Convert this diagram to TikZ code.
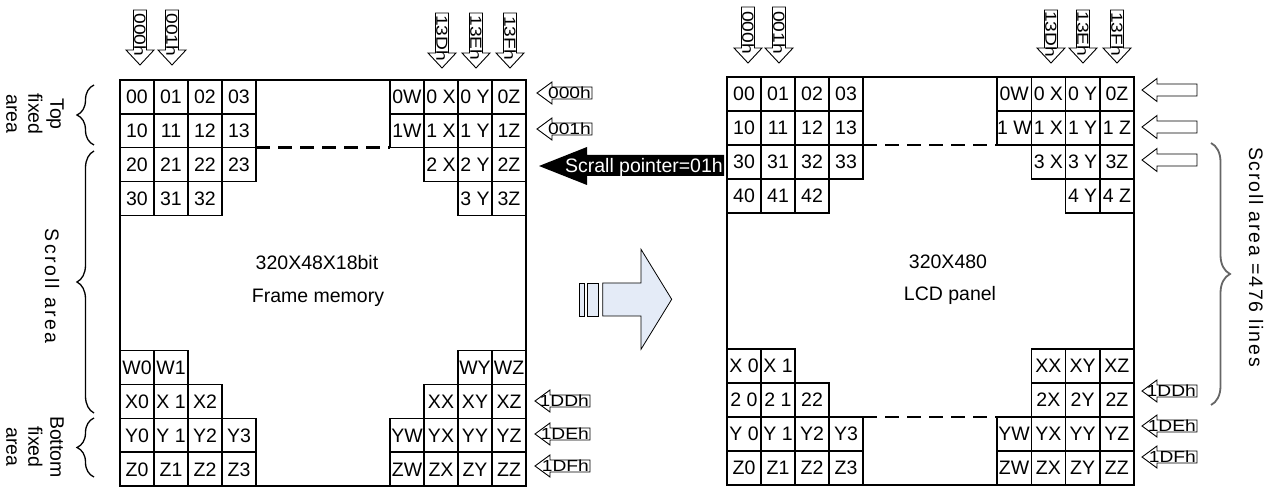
\documentclass[tikz,border=0pt]{standalone}
\usepackage{fontspec}
\setmainfont{Liberation Sans}
\usetikzlibrary{decorations.pathreplacing}
\definecolor{arrowblue}{RGB}{228,235,247}
\newcommand{\cellfont}{\fontsize{19.5}{22}\selectfont}
\newcommand{\tagfont}{\fontsize{16}{18}\selectfont}
\newcommand{\labfont}{\fontsize{19.5}{22}\selectfont}
\tikzset{
  cell/.style={draw, line width=1.5pt, inner sep=0pt, outer sep=0pt, anchor=north west,
    font=\cellfont, text height=13.9pt, text depth=0pt},
  lcell/.style={cell, minimum width=34pt, minimum height=33.83pt},
  rcell/.style={cell, minimum width=34pt, minimum height=34pt},
  rrcell/.style={cell, minimum width=34.25pt, minimum height=34pt},
  framebox/.style={draw, line width=1.5pt, inner sep=0pt, outer sep=0pt, anchor=north west},
  outlinearrow/.style={draw, fill=white, line width=0.9pt, line join=miter},
  tag/.style={font=\tagfont, inner sep=0pt},
  dashline/.style={line width=2.8pt, dash pattern=on 14pt off 8pt},
  bracestyle/.style={decorate, decoration={brace, amplitude=17pt}, line width=1.3pt},
  lab/.style={font=\labfont, inner sep=0pt},
}
% row of cells: prefix, style, x0, dx, y, list
\newcommand{\cellrow}[6]{\foreach \lab [count=\i from 0] in {#6} {\node[#2] (#1\i) at ({#3+#4*\i},#5) {\lab};}}
% down arrow: name, cx, top, tip, label
\newcommand{\downarr}[5]{%
  \draw[outlinearrow] ({#2-6.5},#3) -- ({#2+6.5},#3) -- ({#2+6.5},{#4-15}) -- ({#2+14},{#4-15})
    -- (#2,#4) -- ({#2-14},{#4-15}) -- ({#2-6.5},{#4-15}) -- cycle;
  \node[tag, rotate=-90] (#1) at (#2,{(#3+#4-5)/2}) {\scalebox{1.2}[1]{#5}};}
% left arrow: name, tipx, cy, label
\newcommand{\leftarr}[4]{%
  \draw[outlinearrow] (#2,#3) -- ({#2+15},{#3-11}) -- ({#2+15},{#3-6}) -- ({#2+55},{#3-6})
    -- ({#2+55},{#3+6}) -- ({#2+15},{#3+6}) -- ({#2+15},{#3+11}) -- cycle;
  \node[tag, anchor=east] (#1) at ({#2+54},#3) {\scalebox{1.2}[1]{#4}};}
\begin{document}
\begin{tikzpicture}[x=1pt,y=-1pt]
\useasboundingbox (0,0) rectangle (1278,489);

% ---------- Frame memory ----------
\node[framebox, minimum width=406pt, minimum height=406pt] (mem) at (120,80) {};
\cellrow{mA}{lcell}{120}{34}{80}{00,01,02,03}
\cellrow{mB}{lcell}{120}{34}{113.83}{10,11,12,13}
\cellrow{mC}{lcell}{120}{34}{147.67}{20,21,22,23}
\cellrow{mD}{lcell}{120}{34}{181.5}{30,31,32}
\cellrow{mAr}{lcell}{390}{34}{80}{0W,0 X,0 Y,0Z}
\cellrow{mBr}{lcell}{390}{34}{113.83}{1W,1 X,1 Y,1Z}
\cellrow{mCr}{lcell}{424}{34}{147.67}{2 X,2 Y,2Z}
\cellrow{mDr}{lcell}{458}{34}{181.5}{3 Y,3Z}
\cellrow{mW}{lcell}{120}{34}{350.67}{W0,W1}
\cellrow{mX}{lcell}{120}{34}{384.5}{X0,X 1,X2}
\cellrow{mY}{lcell}{120}{34}{418.33}{Y0,Y 1,Y2,Y3}
\cellrow{mZ}{lcell}{120}{34}{452.17}{Z0,Z1,Z2,Z3}
\cellrow{mWr}{lcell}{458}{34}{350.67}{WY,WZ}
\cellrow{mXr}{lcell}{424}{34}{384.5}{XX,XY,XZ}
\cellrow{mYr}{lcell}{390}{34}{418.33}{YW,YX,YY,YZ}
\cellrow{mZr}{lcell}{390}{34}{452.17}{ZW,ZX,ZY,ZZ}
\draw[dashline] (mB3.south east) -- (mBr0.south west);
\node[lab] (memA) at (317,263) {320X48X18bit};
\node[lab] (memB) at (318,298) {Frame memory};

% ---------- LCD panel ----------
\node[framebox, minimum width=407pt, minimum height=408pt] (lcd) at (727,77) {};
\cellrow{pA}{rcell}{727}{34}{77}{00,01,02,03}
\cellrow{pB}{rcell}{727}{34}{111}{10,11,12,13}
\cellrow{pC}{rcell}{727}{34}{145}{30,31,32,33}
\cellrow{pD}{rcell}{727}{34}{179}{40,41,42}
\cellrow{pAr}{rrcell}{997}{34.25}{77}{0W,0 X,0 Y,0Z}
\cellrow{pBr}{rrcell}{997}{34.25}{111}{1 W,1 X,1 Y,1 Z}
\cellrow{pCr}{rrcell}{1031.25}{34.25}{145}{3 X,3 Y,3Z}
\cellrow{pDr}{rrcell}{1065.5}{34.25}{179}{4 Y,4 Z}
\cellrow{pX}{rcell}{727}{34}{349}{X 0,X 1}
\cellrow{pT}{rcell}{727}{34}{383}{2 0,2 1,22}
\cellrow{pY}{rcell}{727}{34}{417}{Y 0,Y 1,Y2,Y3}
\cellrow{pZ}{rcell}{727}{34}{451}{Z0,Z1,Z2,Z3}
\cellrow{pXr}{rrcell}{1031.25}{34.25}{349}{XX,XY,XZ}
\cellrow{pTr}{rrcell}{1031.25}{34.25}{383}{2X,2Y,2Z}
\cellrow{pYr}{rrcell}{997}{34.25}{417}{YW,YX,YY,YZ}
\cellrow{pZr}{rrcell}{997}{34.25}{451}{ZW,ZX,ZY,ZZ}
\draw[dashline] (pB3.south east) -- (pBr0.south west);
\draw[dashline] (pY3.north east) -- (pYr0.north west);
\node[lab] (lcdA) at (948,262) {320X480};
\node[lab] (lcdB) at (950,295) {LCD panel};

% ---------- column arrows ----------
\downarr{tA}{140}{10}{65}{000h}
\downarr{tB}{172}{10}{65}{001h}
\downarr{tC}{442}{13}{68}{13Dh}
\downarr{tD}{476}{13}{68}{13Eh}
\downarr{tE}{510}{13}{68}{13Fh}
\downarr{uA}{748}{7}{63}{000h}
\downarr{uB}{779}{7}{63}{001h}
\downarr{uC}{1051}{10}{63}{13Dh}
\downarr{uD}{1083}{10}{63}{13Eh}
\downarr{uE}{1117}{10}{63}{13Fh}

% ---------- row arrows ----------
\leftarr{rA}{537}{93}{000h}
\leftarr{rB}{537}{129}{001h}
\leftarr{rC}{535}{401}{1DDh}
\leftarr{rD}{535}{434}{1DEh}
\leftarr{rE}{535}{466}{1DFh}
\foreach \cy in {90,127,160}
  \draw[outlinearrow] (1142,\cy) -- (1157,{\cy-11.5}) -- (1157,{\cy-6}) -- (1197,{\cy-6})
    -- (1197,{\cy+6}) -- (1157,{\cy+6}) -- (1157,{\cy+11.5}) -- cycle;
\leftarr{sC}{1142}{391}{1DDh}
\leftarr{sD}{1142}{426}{1DEh}
\leftarr{sE}{1142}{457}{1DFh}

% ---------- scroll pointer ----------
\fill (539,166) -- (587,147) -- (587,155) -- (724,155) -- (724,176) -- (587,176) -- (587,185) -- cycle;
\node[lab, text=white, anchor=base east] (sp) at (723,173) {Scrall pointer=01h};

% ---------- transfer arrow ----------
\draw[fill=arrowblue, line width=0.8pt] (579.3,283) rectangle (584.3,316);
\draw[fill=arrowblue, line width=0.8pt] (587.7,283) rectangle (598.3,316);
\draw[fill=arrowblue, line width=0.8pt, line join=miter] (602.7,283) -- (641,283) -- (641,249.3)
  -- (671.7,299.3) -- (641,349.3) -- (641,316) -- (602.7,316) -- cycle;

% ---------- braces and area labels ----------
\draw[bracestyle] (94,145) -- (94,85);
\draw[bracestyle] (94,413) -- (94,151);
\draw[bracestyle] (94,477) -- (94,418);
\node[lab, rotate=-90, align=center] (topl) at (35,114) {Top\\fixed\\area};
\node[lab, rotate=-90, font={\labfont\addfontfeature{LetterSpace=12}}] (scl) at (52,286) {Scroll area};
\node[lab, rotate=-90, align=center] (botl) at (35,447) {Bottom\\fixed\\area};
\draw[decorate, decoration={brace, amplitude=19pt}, line width=1.8pt, black!60] (1211,143) -- (1211,405);
\node[lab, rotate=-90, font={\labfont\addfontfeature{LetterSpace=9}}] (scr) at (1256,257) {Scroll area =476 lines};
\end{tikzpicture}
\end{document}
